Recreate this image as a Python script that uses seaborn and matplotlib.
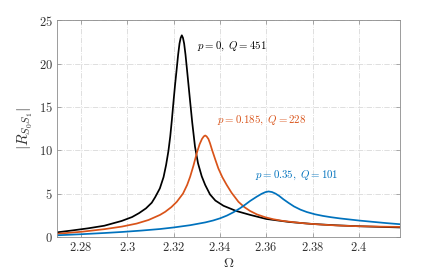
import numpy as np
import pandas as pd
import matplotlib
matplotlib.use("Agg")
import matplotlib.pyplot as plt
import seaborn as sns

# ---- data ----
omega_p0 = [2.27, 2.276, 2.283, 2.29, 2.2975, 2.302, 2.305, 2.308, 2.3105, 2.312, 2.314, 2.3156,
            2.3167, 2.3177, 2.3185, 2.3192, 2.3199, 2.3206, 2.3213, 2.3219, 2.3225, 2.323, 2.3235,
            2.324, 2.3245, 2.3251, 2.3257, 2.3264, 2.3271, 2.328, 2.3292, 2.3305, 2.3321, 2.3336,
            2.3357, 2.338, 2.3415, 2.347, 2.353, 2.36, 2.37, 2.38, 2.39, 2.40, 2.41, 2.418]
r_p0 = [0.55, 0.75, 1.0, 1.3, 1.85, 2.3, 2.75, 3.3, 3.95, 4.6, 5.6, 6.9,
        8.3, 9.9, 11.6, 13.5, 15.6, 17.6, 19.4, 21.0, 22.3, 22.95, 23.25,
        22.95, 22.3, 21.0, 19.4, 17.5, 15.6, 13.2, 10.4, 8.5, 7.0, 6.0,
        4.9, 4.2, 3.6, 3.0, 2.55, 2.08, 1.73, 1.5, 1.35, 1.24, 1.16, 1.1]

omega_p185 = [2.27, 2.28, 2.29, 2.2976, 2.304, 2.3091, 2.3141, 2.3163, 2.319, 2.3213, 2.324,
              2.3258, 2.3271, 2.3285, 2.33, 2.3312, 2.3322, 2.333, 2.3336, 2.3342, 2.335, 2.3357,
              2.3365, 2.338, 2.3393, 2.341, 2.3429, 2.345, 2.348, 2.3505, 2.353, 2.356, 2.3595,
              2.363, 2.367, 2.372, 2.3775, 2.385, 2.392, 2.40, 2.41, 2.418]
r_p185 = [0.38, 0.6, 0.9, 1.2, 1.55, 1.96, 2.55, 2.9, 3.45, 4.05, 5.0,
          6.0, 6.95, 8.2, 9.7, 10.7, 11.3, 11.6, 11.7, 11.6, 11.3, 10.8,
          10.1, 8.9, 7.9, 6.9, 6.0, 5.1, 4.05, 3.45, 3.0, 2.6, 2.28,
          2.05, 1.86, 1.7, 1.55, 1.41, 1.31, 1.24, 1.19, 1.16]

omega_p35 = [2.27, 2.28, 2.29, 2.2976, 2.306, 2.3141, 2.32, 2.3271, 2.3336, 2.337, 2.34, 2.343,
             2.3458, 2.3487, 2.351, 2.353, 2.3559, 2.358, 2.3596, 2.361, 2.3625, 2.364, 2.3655,
             2.3674, 2.3697, 2.372, 2.3748, 2.3775, 2.381, 2.3845, 2.388, 2.3919, 2.40, 2.4063,
             2.412, 2.418]
r_p35 = [0.2, 0.32, 0.46, 0.58, 0.74, 0.92, 1.1, 1.36, 1.68, 1.9, 2.15, 2.47,
         2.85, 3.32, 3.75, 4.15, 4.65, 4.98, 5.17, 5.25, 5.18, 5.0, 4.75,
         4.35, 3.92, 3.52, 3.15, 2.88, 2.62, 2.43, 2.28, 2.14, 1.9, 1.74,
         1.6, 1.47]

series_labels = [r"$p = 0,\ Q = 451$", r"$p = 0.185,\ Q = 228$", r"$p = 0.35,\ Q = 101$"]
series_colors = ["#000000", "#D95319", "#0072BD"]
label_pos = [(2.3300, 22.0), (2.3386, 13.5), (2.3550, 7.06)]

x_ticks = [2.28, 2.30, 2.32, 2.34, 2.36, 2.38, 2.40]
x_ticklabels = ["2.28", "2.3", "2.32", "2.34", "2.36", "2.38", "2.4"]
y_ticks = [0, 5, 10, 15, 20, 25]

# ---- build table ----
frames = []
for lab, om, r in zip(series_labels, [omega_p0, omega_p185, omega_p35], [r_p0, r_p185, r_p35]):
    frames.append(pd.DataFrame({"omega": om, "R": r, "series": lab}))
df = pd.concat(frames, ignore_index=True)

sns.set_theme(style="white")
plt.rcParams["mathtext.fontset"] = "cm"
plt.rcParams["font.family"] = ["DejaVu Serif"]

fig = plt.figure(figsize=(4.41, 2.72), dpi=100)
ax = fig.add_axes([0.129, 0.1287, 0.778, 0.7973])

sns.lineplot(data=df, x="omega", y="R", hue="series", palette=series_colors,
             hue_order=series_labels, sort=False, estimator=None, linewidth=1.25,
             legend=False, ax=ax)

ax.set_xlim(2.2695, 2.4178)
ax.set_ylim(0, 25)
ax.set_xticks(x_ticks)
ax.set_xticklabels(["$" + t + "$" for t in x_ticklabels], fontsize=9, color="#333333")
ax.set_yticks(y_ticks)
ax.set_yticklabels(["$%d$" % v for v in y_ticks], fontsize=9, color="#333333")
ax.set_xlabel(r"$\Omega$", fontsize=10, labelpad=1, color="#333333")
ax.set_ylabel(r"$|R_{S_0S_1}|$", fontsize=11, labelpad=3, color="#333333")

ax.grid(True, linestyle="-.", color="#d9d9d9", linewidth=0.6)
ax.set_axisbelow(True)
for s in ax.spines.values():
    s.set_visible(True)
    s.set_color("#8c8c8c")
    s.set_linewidth(0.6)
ax.tick_params(direction="in", length=3, width=0.5, color="#8c8c8c",
               top=True, right=True, bottom=True, left=True, pad=3)

for lab, col, (px, py) in zip(series_labels, series_colors, label_pos):
    ax.text(px, py, lab, color=col, fontsize=7.8, ha="left", va="center")

fig.savefig("out.png", dpi=100)
